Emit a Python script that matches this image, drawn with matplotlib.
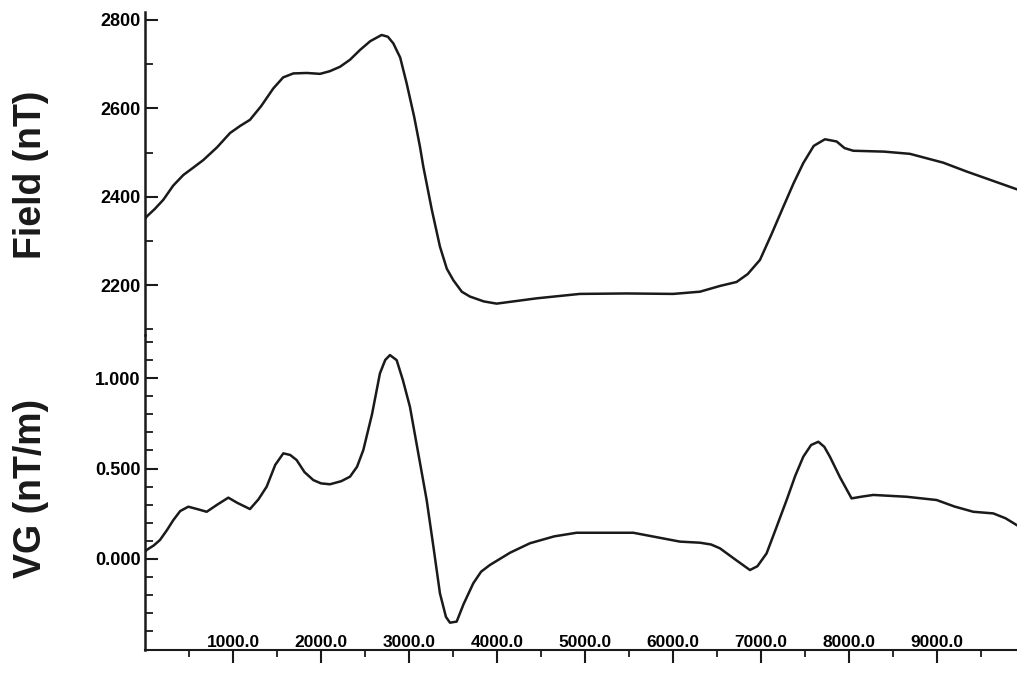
import matplotlib.pyplot as plt
from matplotlib.ticker import FixedLocator, FormatStrFormatter

plt.rcParams['font.family'] = ['Liberation Sans', 'DejaVu Sans']
plt.rcParams['font.weight'] = 'bold'

# total field profile (nT)
field_x = [0, 19, 110, 208, 320, 435, 550, 663, 820, 966, 1080, 1193, 1320,
           1458, 1570, 1686, 1840, 1989, 2100, 2216, 2330, 2443, 2560, 2689,
           2760, 2822, 2900, 2973, 3060, 3125, 3163, 3260, 3352, 3430, 3504,
           3600, 3693, 3850, 3996, 4451, 4943, 5473, 6003, 6307, 6534, 6723,
           6850, 6989, 7120, 7254, 7370, 7481, 7600, 7727, 7860, 7950, 8049,
           8400, 8693, 9072, 9337, 9905]
field_nt = [2350, 2355, 2372, 2393, 2425, 2449, 2466, 2483, 2512, 2544, 2560,
            2574, 2605, 2645, 2670, 2679, 2680, 2678, 2684, 2694, 2710, 2732,
            2752, 2766, 2762, 2747, 2715, 2657, 2580, 2513, 2468, 2370, 2287,
            2237, 2211, 2185, 2174, 2163, 2158, 2170, 2180, 2181, 2180, 2185,
            2198, 2207, 2225, 2257, 2315, 2377, 2430, 2476, 2515, 2530, 2525,
            2510, 2504, 2502, 2497, 2477, 2457, 2417]

# vertical gradient profile (nT/m)
vg_x = [0, 19, 100, 170, 250, 322, 400, 492, 600, 701, 820, 947, 1050, 1193,
        1290, 1383, 1480, 1572, 1650, 1723, 1813, 1913, 2000, 2102, 2230,
        2330, 2410, 2481, 2580, 2670, 2730, 2784, 2860, 2930, 3011, 3100,
        3201, 3280, 3352, 3420, 3466, 3542, 3620, 3731, 3820, 3920, 4150,
        4375, 4650, 4905, 5549, 6080, 6307, 6434, 6534, 6700, 6875, 6960,
        7064, 7180, 7292, 7390, 7481, 7570, 7652, 7720, 7784, 7900, 8030,
        8150, 8277, 8655, 8996, 9200, 9413, 9640, 9780, 9905]
vg_val = [0.04, 0.05, 0.075, 0.105, 0.16, 0.215, 0.265, 0.289, 0.275, 0.261,
          0.30, 0.339, 0.31, 0.276, 0.33, 0.40, 0.52, 0.584, 0.575, 0.547,
          0.48, 0.436, 0.418, 0.413, 0.43, 0.455, 0.51, 0.602, 0.80, 1.026,
          1.10, 1.127, 1.099, 0.99, 0.841, 0.60, 0.326, 0.06, -0.19, -0.32,
          -0.352, -0.346, -0.25, -0.134, -0.07, -0.033, 0.035, 0.087, 0.125,
          0.145, 0.145, 0.096, 0.090, 0.08, 0.059, 0.0, -0.061, -0.04, 0.031,
          0.18, 0.326, 0.46, 0.565, 0.63, 0.648, 0.62, 0.565, 0.45, 0.335,
          0.345, 0.354, 0.344, 0.326, 0.29, 0.261, 0.252, 0.225, 0.188]

x_major = [1000, 2000, 3000, 4000, 5000, 6000, 7000, 8000, 9000]
x_minor = [500, 1500, 2500, 3500, 4500, 5500, 6500, 7500, 8500, 9500]
field_major = [2200, 2400, 2600, 2800]
field_minor = [2100, 2300, 2500, 2700]
vg_major = [0.0, 0.5, 1.0]
vg_minor = [-0.4, -0.3, -0.2, -0.1, 0.1, 0.2, 0.3, 0.4, 0.6, 0.7, 0.8, 0.9,
            1.1, 1.2]

W, H = 1017, 674
fig = plt.figure(figsize=(W / 100, H / 100), dpi=100)


def px_axes(left, top, right, bottom):
    return fig.add_axes([left / W, 1 - bottom / H, (right - left) / W,
                         (bottom - top) / H])


ax1 = px_axes(145, 12, 1017, 335)
ax2 = px_axes(145, 335, 1017, 650)

line_kw = dict(color='#1a1a1a', lw=1.8, solid_joinstyle='round')
ax1.plot(field_x, field_nt, **line_kw)
ax2.plot(vg_x, vg_val, **line_kw)

ax1.set_ylim(2087, 2818)
ax2.set_ylim(-0.503, 1.238)

for ax in (ax1, ax2):
    ax.set_xlim(0, 9910)
    ax.patch.set_visible(False)
    for s in ('top', 'right', 'bottom'):
        ax.spines[s].set_visible(False)
    ax.spines['left'].set_linewidth(1.8)
    ax.spines['left'].set_color('#1a1a1a')
    ax.tick_params(axis='y', which='major', direction='in', length=9.5,
                   width=1.5, pad=3, labelsize=13, color='#1a1a1a')
    ax.tick_params(axis='y', which='minor', direction='in', length=5.5,
                   width=1.3, color='#1a1a1a')

ax1.set_xticks([])
ax1.yaxis.set_major_locator(FixedLocator(field_major))
ax1.yaxis.set_minor_locator(FixedLocator(field_minor))
ax1.yaxis.set_major_formatter(FormatStrFormatter('%d'))

ax2.yaxis.set_major_locator(FixedLocator(vg_major))
ax2.yaxis.set_minor_locator(FixedLocator(vg_minor))
ax2.yaxis.set_major_formatter(FormatStrFormatter('%.3f'))

ax2.spines['bottom'].set_visible(True)
ax2.spines['bottom'].set_linewidth(1.5)
ax2.spines['bottom'].set_color('#1a1a1a')
ax2.xaxis.set_major_locator(FixedLocator(x_major))
ax2.xaxis.set_minor_locator(FixedLocator(x_minor))
ax2.xaxis.set_major_formatter(FormatStrFormatter('%.1f'))
ax2.tick_params(axis='x', which='major', direction='out', length=9.5,
                width=1.5, pad=-9.5, labelsize=12.5, color='#1a1a1a')
ax2.tick_params(axis='x', which='minor', direction='out', length=5,
                width=1.3, color='#1a1a1a')
plt.setp(ax2.get_xticklabels(), va='bottom')

fig.text(31 / W, 1 - 175 / H, 'Field (nT)', rotation=90, fontsize=27,
         fontweight='bold', ha='center', va='center', color='#1a1a1a')
fig.text(31 / W, 1 - 488 / H, 'VG (nT/m)', rotation=90, fontsize=27,
         fontweight='bold', ha='center', va='center', color='#1a1a1a')

fig.savefig('out.png', dpi=100)
